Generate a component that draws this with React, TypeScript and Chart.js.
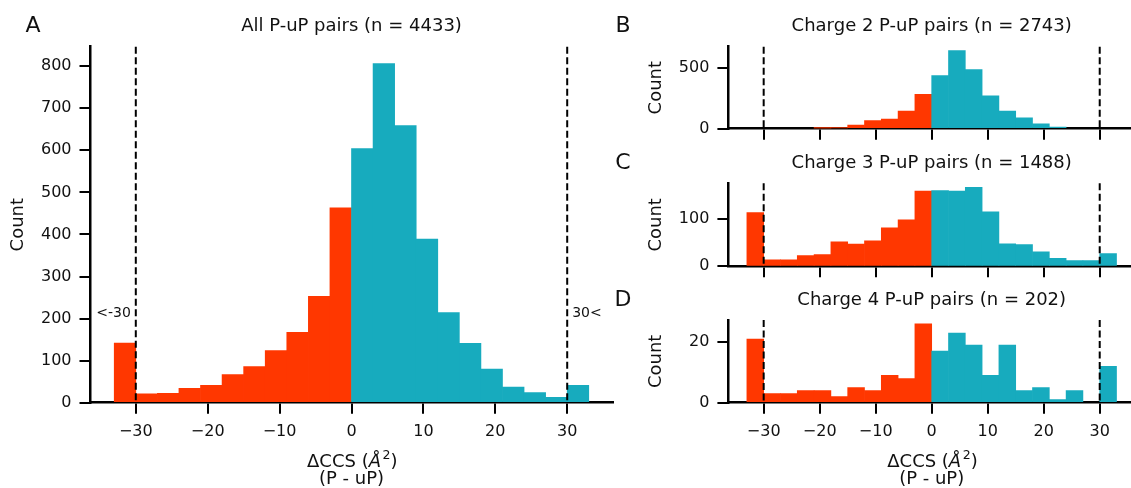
import React, { useEffect, useRef } from 'react';
import { Chart, registerables } from 'chart.js';

Chart.register(...registerables);

// ---- data ----
const BIN_CENTERS = [-31.5, -28.5, -25.5, -22.5, -19.5, -16.5, -13.5, -10.5, -7.5, -4.5, -1.5, 1.5, 4.5, 7.5, 10.5, 13.5, 16.5, 19.5, 22.5, 25.5, 28.5, 31.5];
const COUNTS_ALL = [142, 21, 22, 34, 41, 67, 86, 124, 167, 253, 463, 604, 806, 659, 389, 214, 141, 80, 37, 24, 13, 41];
const COUNTS_CHARGE2 = [0, 0, 0, 0, 5, 7, 30, 66, 79, 146, 284, 437, 643, 486, 270, 145, 89, 41, 13, 0, 0, 0];
const COUNTS_CHARGE3 = [114, 14, 14, 23, 25, 52, 47, 54, 82, 99, 160, 161, 160, 168, 116, 48, 46, 31, 17, 12, 12, 27];
const COUNTS_CHARGE4 = [21, 3, 3, 4, 4, 2, 5, 4, 9, 8, 26, 17, 23, 19, 9, 19, 4, 5, 1, 4, 0, 12];

const X_TICKS = [-30, -20, -10, 0, 10, 20, 30];
const Y_TICKS_ALL = [0, 100, 200, 300, 400, 500, 600, 700, 800];
const Y_TICKS_CHARGE2 = [0, 500];
const Y_TICKS_CHARGE3 = [0, 100];
const Y_TICKS_CHARGE4 = [0, 20];
const CUTOFFS = [-30, 30];
const CUTOFF_LABELS = ['<-30', '30<'];
const CUTOFF_LABEL_Y = 212;

const TITLES = [
  'All P-uP pairs (n = 4433)',
  'Charge 2 P-uP pairs (n = 2743)',
  'Charge 3 P-uP pairs (n = 1488)',
  'Charge 4 P-uP pairs (n = 202)',
];
const LETTERS = ['A', 'B', 'C', 'D'];
const Y_LABEL = 'Count';
const X_LABEL_LINE2 = '(P - uP)';

const X_MIN = -36.3;
const X_MAX = 36.3;

// ---- styles ----
const RED = '#ff3700';
const TEAL = '#17abbe';
const FONT = 'DejaVu Sans';
const INK = '#111';
const H = 488;
const YW = 60;
const XH = 40;

type Area = { left: number; right: number; top: number; bottom: number };
type Panel = {
  counts: number[];
  yTicks: number[];
  title: string;
  letter: string;
  canvasLeft: number;
  canvasWidth: number;
  area: Area;
  letterX: number;
  showXTickLabels: boolean;
  showXTitle: boolean;
  annotate: boolean;
};

const PANELS: Panel[] = [
  { counts: COUNTS_ALL, yTicks: Y_TICKS_ALL, title: TITLES[0], letter: LETTERS[0], canvasLeft: 0, canvasWidth: 620,
    area: { left: 90.5, right: 612.5, top: 46.7, bottom: 402.7 }, letterX: 33, showXTickLabels: true, showXTitle: true, annotate: true },
  { counts: COUNTS_CHARGE2, yTicks: Y_TICKS_CHARGE2, title: TITLES[1], letter: LETTERS[1], canvasLeft: 600, canvasWidth: 540,
    area: { left: 128.4, right: 535, top: 46.7, bottom: 128.7 }, letterX: 23, showXTickLabels: false, showXTitle: false, annotate: false },
  { counts: COUNTS_CHARGE3, yTicks: Y_TICKS_CHARGE3, title: TITLES[2], letter: LETTERS[2], canvasLeft: 600, canvasWidth: 540,
    area: { left: 128.4, right: 535, top: 183.3, bottom: 266.3 }, letterX: 23, showXTickLabels: false, showXTitle: false, annotate: false },
  { counts: COUNTS_CHARGE4, yTicks: Y_TICKS_CHARGE4, title: TITLES[3], letter: LETTERS[3], canvasLeft: 600, canvasWidth: 540,
    area: { left: 128.4, right: 535, top: 320, bottom: 402.7 }, letterX: 23, showXTickLabels: true, showXTitle: true, annotate: false },
];

const fmt = (v: number) => (v < 0 ? '\u2212' + Math.abs(v) : String(v));

const decorPlugin = {
  id: 'decor',
  afterDatasetsDraw(chart: any) {
    const { ctx, chartArea: a, scales } = chart;
    ctx.save();
    ctx.strokeStyle = '#000';
    ctx.lineWidth = 2;
    ctx.setLineDash([7, 3.5]);
    CUTOFFS.forEach((c) => {
      const x = scales.x.getPixelForValue(c);
      ctx.beginPath();
      ctx.moveTo(x, a.top);
      ctx.lineTo(x, a.bottom);
      ctx.stroke();
    });
    ctx.restore();
  },
  afterDraw(chart: any, _args: any, opts: any) {
    const p: Panel = opts.panel;
    const { ctx, chartArea: a, scales } = chart;
    const cx = (a.left + a.right) / 2;
    ctx.save();
    ctx.fillStyle = INK;
    // letter
    ctx.font = `22px "${FONT}"`;
    ctx.textAlign = 'center';
    ctx.textBaseline = 'middle';
    ctx.fillText(p.letter, p.letterX, a.top - 20);
    // title
    ctx.font = `18px "${FONT}"`;
    ctx.fillText(p.title, cx, a.top - 20);
    // y label
    ctx.save();
    ctx.translate(a.left - 72, (a.top + a.bottom) / 2);
    ctx.rotate(-Math.PI / 2);
    ctx.font = `18px "${FONT}"`;
    ctx.fillText(Y_LABEL, 0, 0);
    ctx.restore();
    // x label
    if (p.showXTitle) {
      const parts = [
        { t: '\u0394CCS (', f: `18px "${FONT}"`, dy: 0 },
        { t: '\u00c5', f: `italic 18px "${FONT}"`, dy: 0 },
        { t: '2', f: `12.5px "${FONT}"`, dy: -7 },
        { t: ')', f: `18px "${FONT}"`, dy: 0 },
      ];
      let total = 0;
      const widths = parts.map((pt) => {
        ctx.font = pt.f;
        const w = ctx.measureText(pt.t).width;
        total += w;
        return w;
      });
      let x = cx - total / 2;
      const y1 = a.bottom + 60;
      ctx.textAlign = 'left';
      parts.forEach((pt, i) => {
        ctx.font = pt.f;
        ctx.fillText(pt.t, x, y1 + pt.dy);
        x += widths[i] + (i === 1 ? 1.5 : 0);
      });
      ctx.textAlign = 'center';
      ctx.font = `18px "${FONT}"`;
      ctx.fillText(X_LABEL_LINE2, cx, a.bottom + 77);
    }
    // cutoff annotations
    if (p.annotate) {
      ctx.font = `14px "${FONT}"`;
      const y = scales.y.getPixelForValue(CUTOFF_LABEL_Y);
      ctx.textAlign = 'right';
      ctx.fillText(CUTOFF_LABELS[0], scales.x.getPixelForValue(CUTOFFS[0]) - 5, y);
      ctx.textAlign = 'left';
      ctx.fillText(CUTOFF_LABELS[1], scales.x.getPixelForValue(CUTOFFS[1]) + 5, y);
    }
    ctx.restore();
  },
};

function makeChart(canvas: HTMLCanvasElement, p: Panel) {
  const padding = {
    left: p.area.left - YW,
    right: p.canvasWidth - p.area.right,
    top: p.area.top,
    bottom: H - p.area.bottom - XH,
  };
  const tickFont = { family: FONT, size: 16 };
  const grid = { display: true, drawOnChartArea: false, drawTicks: true, tickLength: 11, lineWidth: 2, color: '#000', offset: false };
  const border = { display: true, width: 2.5, color: '#000' };
  return new Chart(canvas, {
    type: 'bar',
    data: {
      datasets: [
        {
          data: BIN_CENTERS.map((x, i) => ({ x, y: p.counts[i] })),
          backgroundColor: BIN_CENTERS.map((x, i) => (p.counts[i] === 0 ? 'rgba(0,0,0,0)' : x < 0 ? RED : TEAL)),
          borderWidth: 0,
          barPercentage: 1,
          categoryPercentage: 1,
        } as any,
      ],
    },
    options: {
      animation: false,
      responsive: false,
      maintainAspectRatio: false,
      layout: { padding },
      plugins: {
        legend: { display: false },
        tooltip: { enabled: false },
        title: { display: false },
        decor: { panel: p },
      } as any,
      scales: {
        x: {
          type: 'linear',
          min: X_MIN,
          max: X_MAX,
          offset: false,
          z: 1,
          afterBuildTicks: (s: any) => { s.ticks = X_TICKS.map((value) => ({ value })); },
          afterFit: (s: any) => { s.height = XH; },
          ticks: { display: p.showXTickLabels, font: tickFont, color: INK, padding: 9, maxRotation: 0, autoSkip: false, callback: (v: any) => fmt(Number(v)) },
          grid,
          border,
        },
        y: {
          type: 'linear',
          min: 0,
          max: Math.max(...p.counts) * 1.05,
          z: 1,
          afterBuildTicks: (s: any) => { s.ticks = p.yTicks.map((value) => ({ value })); },
          afterFit: (s: any) => { s.width = YW; },
          ticks: { font: tickFont, color: INK, padding: 8, autoSkip: false, callback: (v: any) => fmt(Number(v)) },
          grid,
          border,
        },
      } as any,
    },
    plugins: [decorPlugin],
  });
}

function PanelCanvas({ panel }: { panel: Panel }) {
  const ref = useRef<HTMLCanvasElement | null>(null);
  useEffect(() => {
    if (!ref.current) return;
    const chart = makeChart(ref.current, panel);
    return () => chart.destroy();
  }, [panel]);
  return (
    <canvas
      ref={ref}
      width={panel.canvasWidth}
      height={H}
      style={{ position: 'absolute', left: panel.canvasLeft, top: 0, width: panel.canvasWidth, height: H, display: 'block' }}
    />
  );
}

export default function App() {
  return (
    <div style={{ position: 'absolute', left: 0, top: 0, width: 1131, height: H, overflow: 'hidden', background: '#fff' }}>
      {PANELS.map((p, i) => (
        <PanelCanvas key={i} panel={p} />
      ))}
    </div>
  );
}
